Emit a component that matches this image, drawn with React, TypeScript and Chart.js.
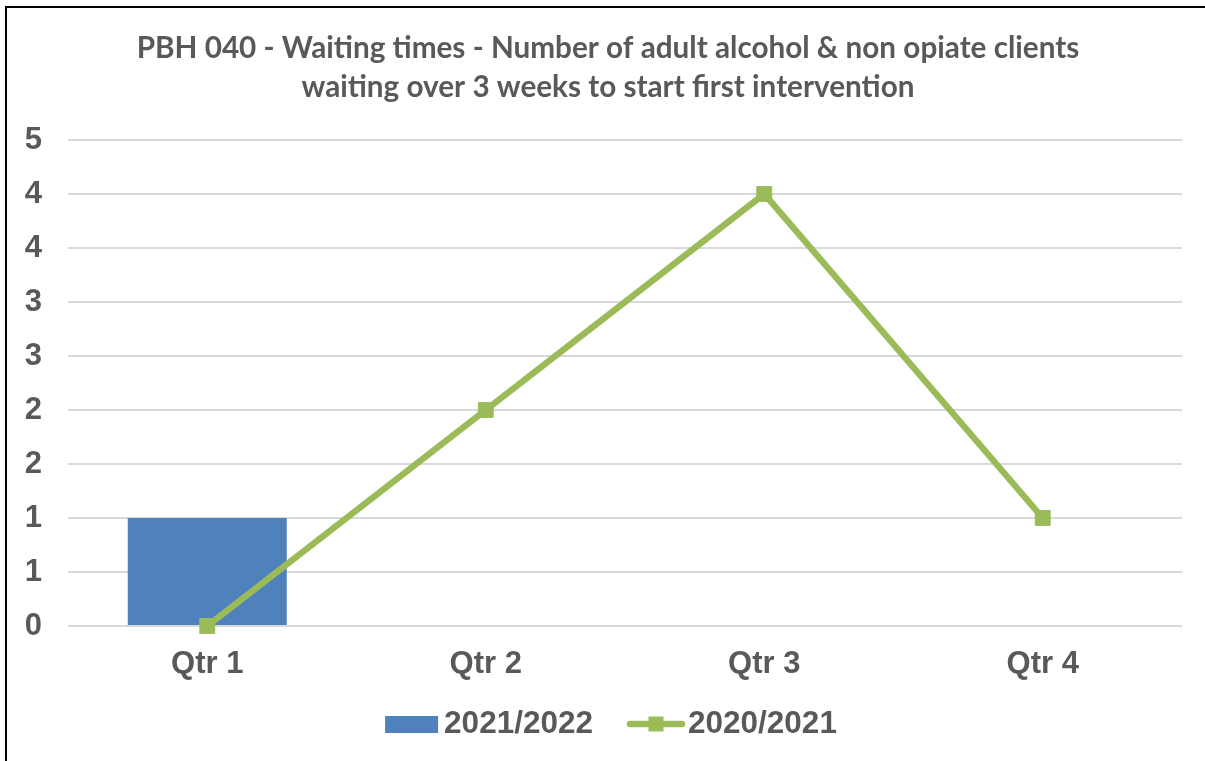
import React, { useEffect, useRef } from "react";
import { Chart, registerables } from "chart.js";

Chart.register(...registerables);

const titleLines = [
  "PBH 040 - Waiting times - Number of adult alcohol & non opiate clients",
  "waiting over 3 weeks to start first intervention",
];
const categories = ["Qtr 1", "Qtr 2", "Qtr 3", "Qtr 4"];
const barLabel = "2021/2022";
const barValues: (number | null)[] = [1, null, null, null];
const lineLabel = "2020/2021";
const lineValues = [0, 2, 4, 1];
const yMax = 4.5;
const yStep = 0.5;

const TEXT = "#595959";
const BAR = "#4F81BD";
const LINE = "#9BBB59";
const GRID = "#D9D9D9";
const AXIS_FONT = "'Liberation Sans', Arial, sans-serif";
const TITLE_FONT = "Lato, 'Open Sans', sans-serif";

const overlayPlugin = {
  id: "overlay",
  afterDraw(chart: any) {
    const ctx = chart.ctx as CanvasRenderingContext2D;
    ctx.save();
    // Title
    ctx.fillStyle = TEXT;
    ctx.textAlign = "center";
    ctx.textBaseline = "alphabetic";
    ctx.font = `bold 29.7px ${TITLE_FONT}`;
    const tcx = 608;
    titleLines.forEach((t, i) => ctx.fillText(t, tcx, 58 + i * 39));

    // Legend
    const ds = chart.data.datasets;
    ctx.font = `bold 31.5px ${AXIS_FONT}`;
    ctx.textAlign = "left";
    ctx.textBaseline = "middle";
    const ly = 724;
    const items = ds.map((d: any) => ({
      label: d.label as string,
      type: d.type as string,
      color: d.backgroundColor as string,
      w: ctx.measureText(d.label).width,
    }));
    const symW = [53, 58];
    const gapSym = [6, 3];
    const gapItem = 34;
    let total = 0;
    items.forEach((it: any, i: number) => {
      total += symW[i] + gapSym[i] + it.w + (i < items.length - 1 ? gapItem : 0);
    });
    let x = 611 - total / 2;
    items.forEach((it: any, i: number) => {
      if (it.type === "bar") {
        ctx.fillStyle = it.color;
        ctx.fillRect(x, ly - 8, symW[i], 17);
      } else {
        ctx.strokeStyle = it.color;
        ctx.lineWidth = 6.5;
        ctx.lineCap = "round";
        ctx.beginPath();
        ctx.moveTo(x + 3, ly);
        ctx.lineTo(x + symW[i] - 3, ly);
        ctx.stroke();
        ctx.fillStyle = it.color;
        ctx.fillRect(x + symW[i] / 2 - 7.5, ly - 7.5, 15, 15);
      }
      x += symW[i] + gapSym[i];
      ctx.fillStyle = TEXT;
      ctx.fillText(it.label, x, ly);
      x += it.w + gapItem;
    });
    ctx.restore();
  },
};

export default function App() {
  const ref = useRef<HTMLCanvasElement | null>(null);
  useEffect(() => {
    if (!ref.current) return;
    const chart = new Chart(ref.current, {
      type: "bar",
      data: {
        labels: categories,
        datasets: [
          {
            type: "bar",
            label: barLabel,
            data: barValues,
            backgroundColor: BAR,
            borderWidth: 0,
            barPercentage: 0.571,
            categoryPercentage: 1,
            order: 2,
          } as any,
          {
            type: "line",
            label: lineLabel,
            data: lineValues,
            borderColor: LINE,
            backgroundColor: LINE,
            borderWidth: 6.5,
            tension: 0,
            clip: false,
            pointStyle: "rect",
            pointRadius: 10.5,
            pointBackgroundColor: LINE,
            pointBorderColor: LINE,
            pointBorderWidth: 1,
            order: 1,
          } as any,
        ],
      },
      options: {
        animation: false,
        responsive: false,
        maintainAspectRatio: false,
        layout: { padding: { left: 0, right: 23, top: 140, bottom: 75 } },
        plugins: {
          legend: { display: false },
          title: { display: false },
          tooltip: { enabled: false },
        },
        scales: {
          x: {
            offset: true,
            grid: { display: false, drawTicks: false },
            border: { display: false },
            ticks: {
              color: TEXT,
              font: { family: AXIS_FONT, size: 31, weight: "bold" },
              padding: 20,
            },
            afterFit: (s: any) => {
              s.height = 60;
            },
          },
          y: {
            min: 0,
            max: yMax,
            grid: { color: GRID, lineWidth: 2, drawTicks: false },
            border: { display: false },
            ticks: {
              stepSize: yStep,
              color: TEXT,
              font: { family: AXIS_FONT, size: 31, weight: "bold" },
              padding: 26,
              callback: (v: any) => String(Math.round(Number(v))),
            },
            afterFit: (s: any) => {
              s.width = 68;
            },
          },
        },
      },
      plugins: [overlayPlugin],
    });
    return () => chart.destroy();
  }, []);

  return (
    <div style={{ position: "fixed", left: 0, top: 0, width: 1205, height: 761, background: "#fff" }}>
      <div
        style={{
          position: "absolute",
          left: 5,
          top: 6,
          width: 1300,
          height: 900,
          borderLeft: "2px solid #000",
          borderTop: "2px solid #000",
        }}
      />
      <canvas ref={ref} width={1205} height={761} style={{ position: "absolute", left: 0, top: 0, display: "block" }} />
    </div>
  );
}
